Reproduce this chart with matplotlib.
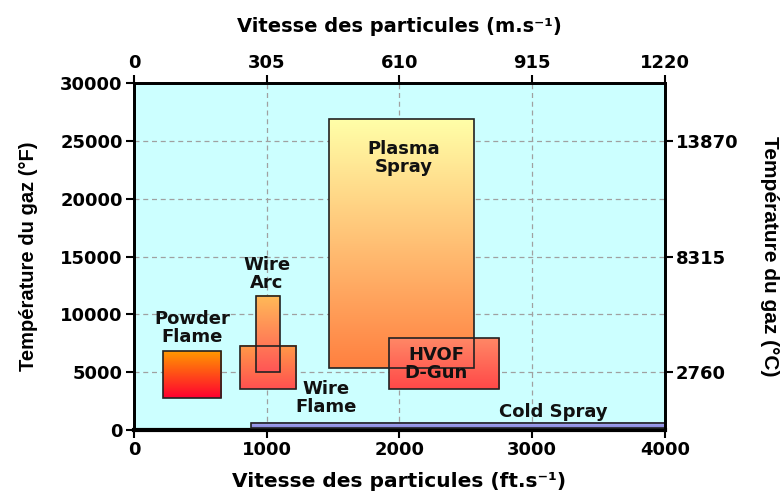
import numpy as np
import matplotlib.pyplot as plt
from matplotlib.patches import Rectangle
from matplotlib.colors import LinearSegmentedColormap

# process boxes: particle velocity (ft/s) vs gas temperature (F)
names = ['Powder Flame', 'Wire Flame', 'Wire Arc', 'Plasma Spray', 'HVOF D-Gun', 'Cold Spray']
v_min = [220, 800, 920, 1470, 1920, 880]
v_max = [660, 1225, 1100, 2560, 2750, 4000]
t_min = [2800, 3570, 5000, 5400, 3600, 150]
t_max = [6850, 7300, 11600, 26900, 8000, 650]

# labels of each box
label_text = ['Powder\nFlame', 'Wire\nFlame', 'Wire\nArc', 'Plasma\nSpray', 'HVOF\nD-Gun', 'Cold Spray']
label_x = [440, 1450, 1000, 2030, 2280, 3160]
label_y = [8850, 2750, 13500, 23500, 5700, 1550]

# axes ticks
x_ticks = [0, 1000, 2000, 3000, 4000]
x_top_labels = ['0', '305', '610', '915', '1220']
y_ticks = [0, 5000, 10000, 15000, 20000, 25000, 30000]
y_right_ticks = [5000, 15000, 25000]
y_right_labels = ['2760', '8315', '13870']

# gradient colors (top, bottom) per box
grad = [('#FF9900', '#FF0030'),
        ('#FF9A48', '#FF5050'),
        ('#FFBB58', '#FF5555'),
        ('#FFFFA8', '#FF8040'),
        ('#FF8866', '#FF4848'),
        ('#A8A8F0', '#8888E0')]

plt.rcParams['font.family'] = ['DejaVu Sans']
plt.rcParams['font.weight'] = 'bold'
arial = ['Liberation Sans', 'DejaVu Sans']

fig = plt.figure(figsize=(7.83, 4.95), dpi=100)
ax = fig.add_axes([0.171, 0.131, 0.678, 0.701])
ax.set_facecolor('#CCFFFF')

g = np.linspace(0, 1, 256).reshape(-1, 1)
for i in range(len(names)):
    cmap = LinearSegmentedColormap.from_list('c%d' % i, [grad[i][1], grad[i][0]])
    ax.imshow(g, extent=[v_min[i], v_max[i], t_min[i], t_max[i]], origin='lower',
              cmap=cmap, aspect='auto', zorder=3)
    ax.add_patch(Rectangle((v_min[i], t_min[i]), v_max[i] - v_min[i], t_max[i] - t_min[i],
                           fill=False, edgecolor='#222222', linewidth=1.2, zorder=4))

for i in range(len(label_text)):
    ax.text(label_x[i], label_y[i], label_text[i], ha='center', va='center',
            fontsize=13, fontweight='bold', color='#111111', linespacing=1.0, zorder=5)

ax.set_xlim(0, 4000)
ax.set_ylim(0, 30000)
ax.set_xticks(x_ticks)
ax.set_yticks(y_ticks)
ax.grid(True, color='#A0A0A0', linestyle=(0, (4, 3)), linewidth=0.9, zorder=1)
ax.set_axisbelow(True)
ax.tick_params(axis='both', labelsize=13, width=1.5, length=6, direction='out', pad=2)
for lab in ax.get_xticklabels() + ax.get_yticklabels():
    lab.set_fontweight('bold')
for s in ax.spines.values():
    s.set_linewidth(1.8)
ax.spines['bottom'].set_linewidth(3)

ax.set_xlabel('Vitesse des particules (ft.s⁻¹)', fontsize=14.5, fontweight='bold', labelpad=9)
ax.set_ylabel('Température du gaz (°F)', fontsize=14.5, fontweight='bold', family=arial, labelpad=16)

axt = ax.twiny()
axt.set_xlim(ax.get_xlim())
axt.set_xticks(x_ticks)
axt.set_xticklabels(x_top_labels)
axt.tick_params(axis='x', labelsize=13, width=1.5, length=6, pad=2)
for lab in axt.get_xticklabels():
    lab.set_fontweight('bold')
axt.set_xlabel('Vitesse des particules (m.s⁻¹)', fontsize=14, fontweight='bold', labelpad=16)

axr = ax.twinx()
axr.set_ylim(ax.get_ylim())
axr.set_yticks(y_right_ticks)
axr.set_yticklabels(y_right_labels)
axr.tick_params(axis='y', labelsize=13, width=1.5, length=6, pad=2)
for lab in axr.get_yticklabels():
    lab.set_fontweight('bold')
axr.set_ylabel('Température du gaz (°C)', fontsize=15, fontweight='bold', family=arial,
               rotation=-90, labelpad=29)

for a in (axt, axr):
    for s in a.spines.values():
        s.set_linewidth(1.8)

fig.savefig('out.png', dpi=100)
